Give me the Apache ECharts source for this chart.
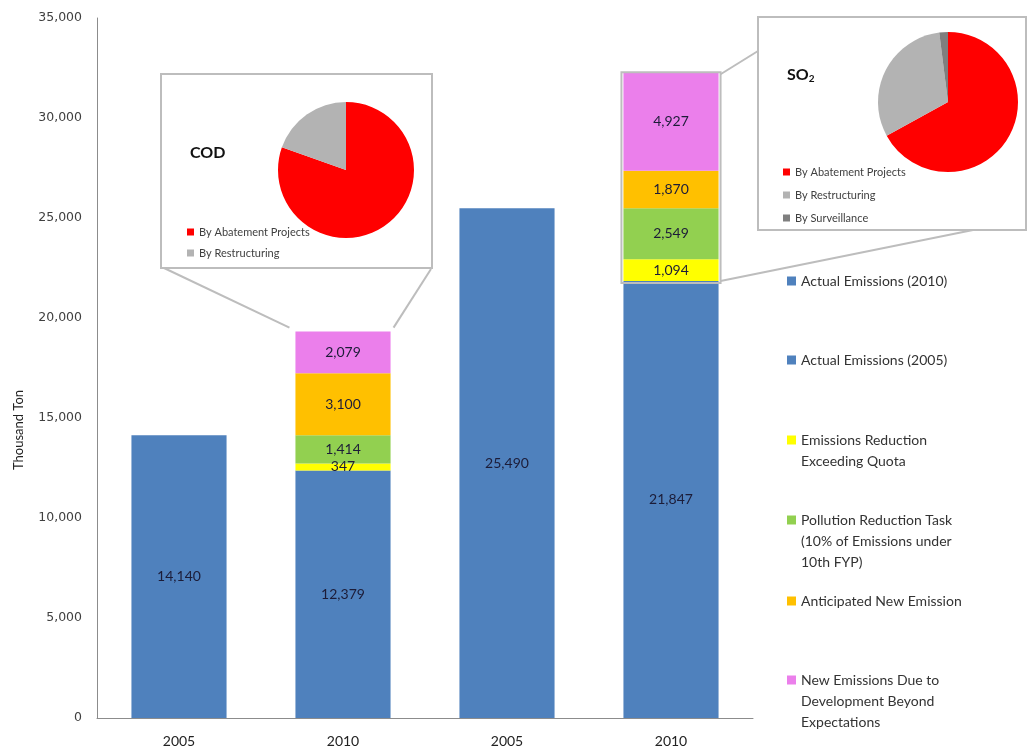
<!DOCTYPE html>
<html>
<head>
<meta charset="utf-8">
<script src="https://cdn.jsdelivr.net/npm/echarts@6/dist/echarts.min.js"></script>
<style>html,body{margin:0;padding:0;background:#fff;}#main{width:1029px;height:751px;}</style>
</head>
<body>
<div id="main"></div>
<script>
// ---- data ----
var categories = ['2005', '2010', '2005', '2010'];
var actual2005 = [14140, null, 25490, null];
var actual2010 = [null, 12379, null, 21847];
var exceedQuota = [null, 347, null, 1094];
var reductionTask = [null, 1414, null, 2549];
var anticipatedNew = [null, 3100, null, 1870];
var beyondExpect = [null, 2079, null, 4927];
var yTicks = { min: 0, max: 35000, interval: 5000 };

var codNames = ['By Abatement Projects', 'By Restructuring'];
var codShares = [80.4, 19.6];
var so2Names = ['By Abatement Projects', 'By Restructuring', 'By Surveillance'];
var so2Shares = [67, 31, 2];

var seriesNames = {
  a10: 'Actual Emissions (2010)',
  a05: 'Actual Emissions (2005)',
  q: 'Emissions Reduction Exceeding Quota',
  t: 'Pollution Reduction Task (10% of Emissions under 10th FYP)',
  n: 'Anticipated New Emission',
  d: 'New Emissions Due to Development Beyond Expectations'
};
var legendLines = {};
legendLines[seriesNames.a10] = ['Actual Emissions (2010)'];
legendLines[seriesNames.a05] = ['Actual Emissions (2005)'];
legendLines[seriesNames.q] = ['Emissions Reduction', 'Exceeding Quota'];
legendLines[seriesNames.t] = ['Pollution Reduction Task', '(10% of Emissions under', '10th FYP)'];
legendLines[seriesNames.n] = ['Anticipated New Emission'];
legendLines[seriesNames.d] = ['New Emissions Due to', 'Development Beyond', 'Expectations'];

// ---- styles ----
var BLUE = '#4F81BD', YELLOW = '#FFFF00', GREEN = '#92D050', ORANGE = '#FFC000', PINK = '#EB7FEB';
var PIE_COLORS = { 'By Abatement Projects': '#FF0000', 'By Restructuring': '#B3B3B3', 'By Surveillance': '#7F7F7F' };
var FONT = 'Lato, "Open Sans", sans-serif';
var LH = 21;

function fmt(v) { return v == null ? '' : v.toLocaleString('en-US'); }

function barSeries(name, data, color) {
  return {
    name: name, type: 'bar', stack: 'total', data: data, barWidth: '58%',
    itemStyle: { color: color },
    label: { show: true, position: 'inside', color: '#1c1c38', fontFamily: FONT, fontSize: 14,
      formatter: function (p) { return fmt(p.value); } },
    emphasis: { disabled: true }
  };
}

var rightLegendCenters = [281, 360, 440, 520, 601, 680];
var rightOrder = [seriesNames.a10, seriesNames.a05, seriesNames.q, seriesNames.t, seriesNames.n, seriesNames.d];

var legends = rightOrder.map(function (nm, i) {
  var extra = legendLines[nm].length - 1;
  return {
    data: [nm], orient: 'vertical', left: 787, top: rightLegendCenters[i] - (extra * LH + LH / 2),
    padding: 0, itemWidth: 9, itemHeight: 9, itemGap: 5, selectedMode: false,
    icon: 'rect',
    formatter: function (n) {
      var ls = legendLines[n];
      var pre = '';
      for (var k = 1; k < ls.length; k++) pre += ' \n';
      return pre + ls.join('\n');
    },
    textStyle: { fontFamily: FONT, fontSize: 14, color: '#333', lineHeight: LH }
  };
});
legends.push({
  data: codNames, orient: 'vertical', left: 187, top: 225, padding: 0, itemWidth: 7, itemHeight: 7, itemGap: 7,
  icon: 'rect', selectedMode: false, itemStyle: {},
  textStyle: { fontFamily: FONT, fontSize: 11, color: '#404040', lineHeight: 14 }
});
legends.push({
  data: so2Names, orient: 'vertical', left: 783, top: 165, padding: 0, itemWidth: 7, itemHeight: 7, itemGap: 9,
  icon: 'rect', selectedMode: false,
  textStyle: { fontFamily: FONT, fontSize: 11, color: '#404040', lineHeight: 14 }
});

function pieData(names, shares) {
  return names.map(function (n, i) { return { name: n, value: shares[i], itemStyle: { color: PIE_COLORS[n] } }; });
}

var chart = echarts.init(document.getElementById('main'));
var option = {
  animation: false,
  backgroundColor: '#fff',
  grid: { left: 97, right: 276, top: 18, bottom: 33 },
  title: [
    { text: 'COD', left: 185, top: 140, textStyle: { fontFamily: FONT, fontSize: 16, fontWeight: 'bold', color: '#111' } },
    { text: 'SO{sub|2}', left: 782, top: 61, textStyle: { fontFamily: FONT, fontSize: 16, fontWeight: 'bold', color: '#111',
      rich: { sub: { fontFamily: FONT, fontSize: 10, fontWeight: 'bold', color: '#111', verticalAlign: 'bottom', padding: [8, 0, 0, 0] } } } }
  ],
  legend: legends,
  xAxis: {
    type: 'category', data: categories,
    axisLine: { lineStyle: { color: '#8c8c8c' } },
    axisTick: { show: false },
    axisLabel: { fontFamily: FONT, fontSize: 14, color: '#222', margin: 16 }
  },
  yAxis: {
    type: 'value', min: yTicks.min, max: yTicks.max, interval: yTicks.interval,
    name: 'Thousand Ton', nameLocation: 'middle', nameGap: 72, nameRotate: 90,
    nameTextStyle: { fontFamily: FONT, fontSize: 13, color: '#222', padding: [0, 124, 0, 0] },
    axisLine: { show: true, lineStyle: { color: '#8c8c8c' } },
    axisTick: { show: false },
    splitLine: { show: false },
    axisLabel: { fontFamily: '"DejaVu Sans", Verdana, sans-serif', fontSize: 12.5, color: '#404040', margin: 15,
      formatter: function (v) { return fmt(v); } }
  },
  series: [
    barSeries(seriesNames.a05, actual2005, BLUE),
    barSeries(seriesNames.a10, actual2010, BLUE),
    barSeries(seriesNames.q, exceedQuota, YELLOW),
    barSeries(seriesNames.t, reductionTask, GREEN),
    barSeries(seriesNames.n, anticipatedNew, ORANGE),
    barSeries(seriesNames.d, beyondExpect, PINK),
    {
      type: 'pie', name: 'COD', center: [346, 170], radius: 68, z: 5, silent: true,
      label: { show: false }, labelLine: { show: false },
      data: pieData(codNames, codShares)
    },
    {
      type: 'pie', name: 'SO2', center: [948, 102], radius: 70, z: 5, silent: true,
      label: { show: false }, labelLine: { show: false },
      data: pieData(so2Names, so2Shares)
    }
  ]
};
chart.setOption(option);

// callout boxes and connectors, anchored to bar positions computed by the axes
function sum(arr, i) { var s = 0; arr.forEach(function (a) { s += (a[i] || 0); }); return s; }
var stacks = [actual2010, exceedQuota, reductionTask, anticipatedNew, beyondExpect];
var p0 = chart.convertToPixel({ xAxisIndex: 0, yAxisIndex: 0 }, [0, 0]);
var p1 = chart.convertToPixel({ xAxisIndex: 0, yAxisIndex: 0 }, [1, 0]);
var half = (p1[0] - p0[0]) * 0.58 / 2;
var codTop = chart.convertToPixel({ xAxisIndex: 0, yAxisIndex: 0 }, [1, sum(stacks, 1)]);
var so2Top = chart.convertToPixel({ xAxisIndex: 0, yAxisIndex: 0 }, [3, sum(stacks, 3)]);
var so2Base = chart.convertToPixel({ xAxisIndex: 0, yAxisIndex: 0 }, [3, actual2010[3]]);
var GRAY = '#BDBDBD';
chart.setOption({
  graphic: [
    { type: 'rect', z: 1, shape: { x: 161, y: 74, width: 271, height: 194 }, style: { fill: '#fff', stroke: GRAY, lineWidth: 2 } },
    { type: 'line', z: 1, shape: { x1: 164, y1: 268, x2: codTop[0] - half - 6, y2: codTop[1] - 4 }, style: { stroke: GRAY, lineWidth: 2 } },
    { type: 'line', z: 1, shape: { x1: 431, y1: 269, x2: codTop[0] + half + 3, y2: codTop[1] - 4 }, style: { stroke: GRAY, lineWidth: 2 } },
    { type: 'rect', z: 1, shape: { x: 758, y: 17, width: 268, height: 213 }, style: { fill: '#fff', stroke: GRAY, lineWidth: 2 } },
    { type: 'rect', z: 10, shape: { x: so2Top[0] - half - 2, y: so2Top[1], width: half * 2 + 4, height: so2Base[1] - so2Top[1] + 2 }, style: { fill: null, stroke: GRAY, lineWidth: 2 } },
    { type: 'line', z: 1, shape: { x1: so2Top[0] + half + 2, y1: so2Top[1] + 2, x2: 758, y2: 51 }, style: { stroke: GRAY, lineWidth: 2 } },
    { type: 'line', z: 1, shape: { x1: so2Top[0] + half + 2, y1: so2Base[1], x2: 973, y2: 230 }, style: { stroke: GRAY, lineWidth: 2 } }
  ]
});
</script>
</body>
</html>
